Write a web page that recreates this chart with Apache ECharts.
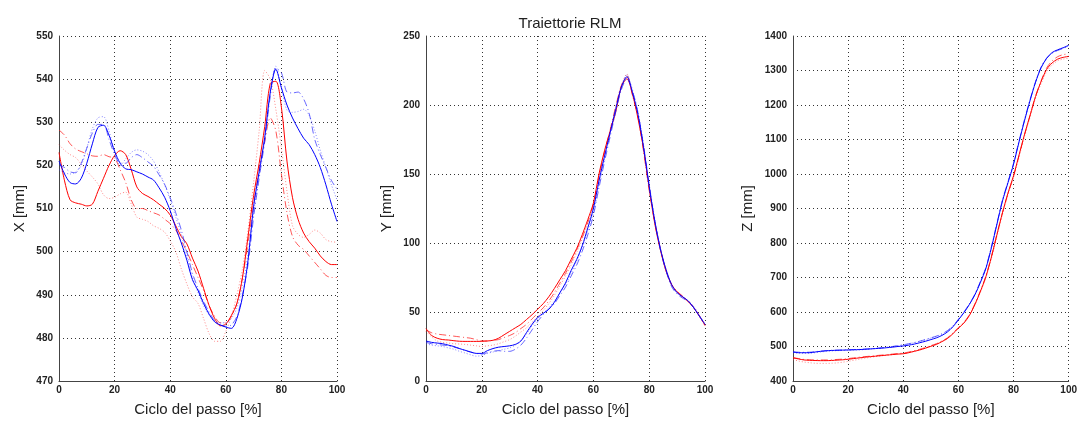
<!DOCTYPE html>
<html>
<head>
<meta charset="utf-8">
<script src="https://cdn.jsdelivr.net/npm/echarts@6/dist/echarts.min.js"></script>
<style>html,body{margin:0;padding:0;background:#fff;}#c{width:1080px;height:422px;}</style>
</head>
<body>
<div id="c"></div>
<script>
// Ciclo del passo [%]
const xs = [0,2,4,6,8,10,12,14,16,18,20,22,24,26,28,30,32,34,36,38,40,42,44,46,48,50,52,54,56,58,60,62,64,66,68,70,72,74,76,78,80,82,84,86,88,90,92,94,96,98,100];

// X [mm]
const xB1 = [521,518,516,515.7,517,520.5,525,528.8,529.3,527,523.3,520.5,519.2,519,518.5,518,517.3,516.6,514.8,512.6,509.5,505.5,502,498,493.5,491,488,485.5,483.7,483,482.5,482.2,484.5,489.5,498,510.5,518.5,526.5,537,542.3,538,534,531,528.5,526.3,524.8,522.5,519.5,515.5,511,507];
const xB2 = [520.2,519.5,518.5,518.3,520.5,524,527.5,529.5,529.5,526,522.5,520.5,520.5,521.8,522.5,521.8,520.8,519.8,517.8,515.6,512.5,509,505,500,495,491.5,488.5,486,484,483,482.7,483,485,490,497,508,517,525.5,536,542.5,541.5,537,536.8,537,535.4,532,526,522.5,519.5,516.5,514.5];
const xB3 = [519,518.3,518,518.5,520,524,528.5,531,531.3,528,523,520,521.5,523,523.6,523.3,522.5,521,518.5,515.5,512,508,504,499,494,490.5,487.5,485.3,484,483.5,483.5,484.5,487,492,499.5,509,517.5,526,536.5,543,538,532.8,532.3,532.5,533,531.6,528,523.5,519.5,515.5,512];
const xR1 = [523,516.4,512,511.3,511,510.6,511,514,517,520,522.3,523.4,522.5,519,515,513.5,512.8,512,511,510,508.5,506,503.5,501.8,498.5,495.5,491.5,487.5,484.5,482.8,483.2,485.2,488,494,503.5,513,520.5,529,539,539.5,533.5,521,512.5,507.5,504.3,502.3,500.8,499,497.7,497,497];
const xR2 = [528.2,527,525,523.8,523.2,522.7,522.2,522.1,522.5,522,521.7,519,516,512,510,510,509.5,509,508.5,507.5,506.5,505,502.5,500,497,494,491,487.5,485,483.5,483.5,485,488,494,502,511,519,525.5,531,528,518,509,503.5,501.5,500.5,499,497.5,496,494.5,494,494];
const xR3 = [524.8,523.5,522.5,521.8,520.3,518.7,517.3,515.7,513.2,512.3,512.6,513.4,513.8,511,508,507.5,507,506,505.4,504.5,502.5,500,496,492.5,489.5,488,484.5,481,479.2,479.2,481.5,485,490,496,505,516,528,542,540,533,524,514,506,504,503.3,504,505,504.3,502.8,502.3,502.2];

// Y [mm]
const yB1 = [29,28,27.5,27,26,25,23.5,22.3,21,20,20,22,23.5,24.5,25,25.5,26.5,29,35,41,46,49,52,57,64,71,80,88,98,111,125,145,163,180,197,213,220.5,209,193,169,141,116,96,81,70,64,61,58,53,47,41];
const yB2 = [28,27,26.5,26,25.5,24.5,23.5,22,21,20,19.5,20.5,21.5,22,21.5,21.5,23,26,31,37,43,48,52,56,62,68,76,84,94,106,120,140,159,177,195,211,219,210,194,170,142,116,95,80,68.5,63,60,57.5,53,47,41];
const yB3 = [27,26,25.5,25,24,23,21.5,20.3,19,18,18.5,20,21,22,23,24,26,29,34,40,45,49,53,58,64,70,78,87,97,109,122,142,161,179,196,212,222,211,195,171,143,117,96,80,69,64,61,58,54,47.5,41.5];
const yR1 = [38,33,31,30,29.7,29.2,28.8,28.7,28.7,28.7,28.8,29,29.5,31,33.5,36,38.5,41,44.5,48,52,56,61,67,73.5,80,88,96,106,117,129,150,167,181,195,213,219,208,190,168,140,114,95,80,70,64.5,61,57.5,53,47,40.5];
const yR2 = [37,35,34,33.5,33,32.5,32,31.5,31,30,29,29,29.5,30,31.5,33,35,38,41,45,49,53,58,64,71,78,86,95,104,115,128,148,166,182,199,214,221,207,191,166,138,115,96,80,70,65,61.5,58,53,47,40];
const yR3 = [36,32,29,28,27.5,27,26.8,26.5,26,25.5,25,25.5,26,27,28.5,30,32.5,35.5,38.5,42.5,46.5,51,56,62,69,76,84,93,103,114,127,147,165,181,198,214,222.5,208,192,167,139,115,96,81,70,65,61,58,53.5,47.5,40.5];

// Z [mm]
const zB1 = [484,482,482,482,484,486,487.5,488.5,489,489.5,490,490.5,491,492,493,494,495,496.5,498,500,501.5,504,507,511,515,520,525,532,542,557,577,598,622,650,686,727,787,855,922,975,1028,1093,1155,1213,1266,1308,1335,1352,1360,1366,1373];
const zB2 = [485,483.5,483,483.5,485,486.5,488,489,489.5,490,490.5,491,491.5,492.5,493.5,495,496.5,498,500,502.5,505,508,511.5,515.5,520,525,530,537,546,560,579,600,624,652,689,730,790,858,925,978,1031,1096,1158,1216,1268,1310,1336,1350,1358,1364,1370];
const zB3 = [482,480.5,480,480.5,482,484,486,487,488,488.5,489,489.5,490,491,492.5,494,495.5,497.5,499.5,502,504.5,507.5,511,515,519.5,524.5,529.5,536,545,559,578,599,623,651,688,729,789,857,924,977,1030,1095,1157,1215,1267,1309,1335,1351,1359,1365,1371];
const zR1 = [467,464,461,460,459.5,459,459,459.5,460.5,461.5,463,465,467,469,470.5,472,473.5,475,476.5,478,479,482,486,490,495,500.5,506,514,523,537,553,568,590,622,660,703,760,825,888,945,995,1055,1115,1170,1225,1268,1303,1322,1333,1338,1341];
const zR2 = [468,465,462.5,461.5,461,461,461,461.5,462.5,463.5,465,467,469,470.5,472,473.5,475,476.5,478,479.5,481,484,488,492,497,502.5,508,516,525,539,555,570,592,624,662,705,762,826,888,944,993,1053,1114,1170,1226,1270,1307,1328,1340,1346,1348];
const zR3 = [462,458,455,453,451.5,451,451,451.5,452.5,454.5,457,460,463,466,468.5,471,473,475,476.5,478,479.5,482.5,486.5,491,496,501.5,507,515,524,538,554,569,591,621,658,700,756,820,884,940,990,1050,1110,1165,1220,1262,1296,1316,1328,1333,1336];

const yTitles = ['X [mm]', 'Y [mm]', 'Z [mm]'];
const xTitle = 'Ciclo del passo [%]';
const chartTitle = 'Traiettorie RLM';

const FONT = '"Liberation Sans", Arial, sans-serif';
const grids = [
  {left: 59, top: 36, width: 278, height: 351},
  {left: 426, top: 36, width: 279, height: 351},
  {left: 793, top: 36, width: 279, height: 351}
];
const yRanges = [
  {min: 470, max: 550, interval: 10},
  {min: 0, max: 250, interval: 50},
  {min: 400, max: 1400, interval: 100}
];
const nameGaps = [32, 32, 38];

const gridLine = {show: true, lineStyle: {color: '#333', width: 1, type: [1, 3]}};
const axisLine = {show: true, onZero: false, lineStyle: {color: '#444', width: 1}};
const fmt = v => String(v);

const xAxes = grids.map((g, i) => ({
  type: 'value', gridIndex: i, min: 0, max: 100, interval: 20,
  axisLine: axisLine, axisTick: {show: false}, splitLine: gridLine,
  axisLabel: {fontSize: 10, color: '#222', fontWeight: 'bold', fontFamily: FONT, margin: 4, formatter: fmt},
  name: xTitle, nameLocation: 'middle', nameGap: 21,
  nameTextStyle: {fontSize: 15, color: '#222', fontFamily: FONT}
}));
const yAxes = grids.map((g, i) => ({
  type: 'value', gridIndex: i, min: yRanges[i].min, max: yRanges[i].max, interval: yRanges[i].interval,
  axisLine: axisLine, axisTick: {show: false}, splitLine: gridLine,
  axisLabel: {fontSize: 10, color: '#222', fontWeight: 'bold', fontFamily: FONT, margin: 6, formatter: fmt},
  name: yTitles[i], nameLocation: 'middle', nameRotate: 90, nameGap: nameGaps[i],
  nameTextStyle: {fontSize: 15, color: '#222', fontFamily: FONT}
}));

const panels = [
  [xB1, xB2, xB3, xR1, xR2, xR3],
  [yB1, yB2, yB3, yR1, yR2, yR3],
  [zB1, zB2, zB3, zR1, zR2, zR3]
];
const styles = [
  {color: '#0000ff', type: 'solid'},
  {color: 'rgba(40,40,255,0.7)', type: [7, 3, 1, 3]},
  {color: 'rgba(60,60,255,0.6)', type: [1, 2]},
  {color: '#ff0000', type: 'solid'},
  {color: 'rgba(255,30,30,0.75)', type: [7, 3, 1, 3]},
  {color: 'rgba(255,60,60,0.6)', type: [1, 2]}
];

const series = [];
panels.forEach((arrs, pi) => {
  arrs.forEach((arr, si) => {
    series.push({
      type: 'line', xAxisIndex: pi, yAxisIndex: pi,
      data: xs.map((x, k) => [x, arr[k]]),
      showSymbol: false, symbol: 'none', smooth: 0.3,
      lineStyle: {color: styles[si].color, width: 1, type: styles[si].type},
      z: 10 - si
    });
  });
});

const chart = echarts.init(document.getElementById('c'), null, {renderer: 'canvas'});
chart.setOption({
  animation: false,
  backgroundColor: '#fff',
  title: {text: chartTitle, left: 565, top: 11, textAlign: 'center',
    textStyle: {fontSize: 15, fontWeight: 'normal', color: '#222', fontFamily: FONT}},
  grid: grids,
  xAxis: xAxes,
  yAxis: yAxes,
  series: series
});
</script>
</body>
</html>
